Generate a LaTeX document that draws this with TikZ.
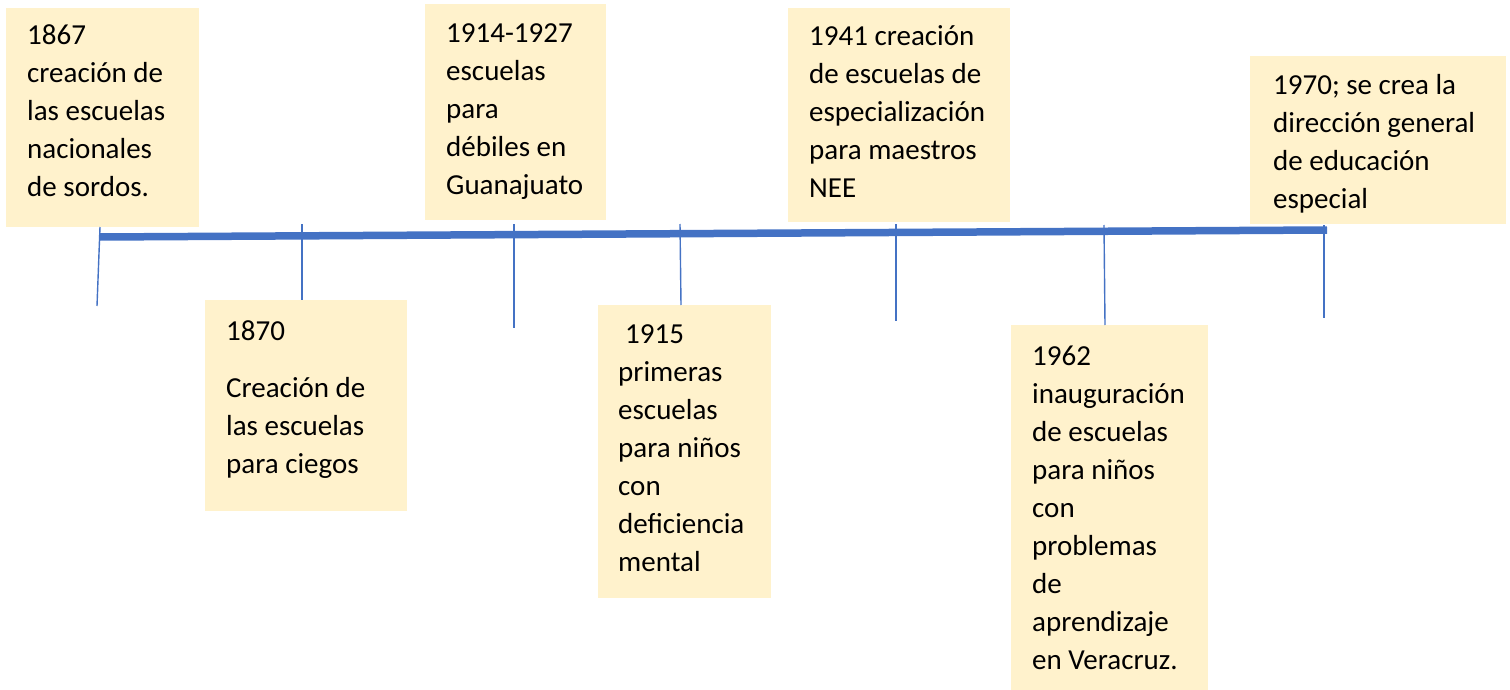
\documentclass[tikz,border=0pt]{standalone}
\usepackage{fontspec}
\setmainfont{Carlito}
\definecolor{boxfill}{HTML}{FFF2CC}
\definecolor{lineblue}{HTML}{4472C4}
\tikzset{
  evbox/.style={fill=boxfill, draw=none, inner sep=0pt, anchor=north west},
  evtext/.style={inner sep=0pt, anchor=base west, text=black, font=\fontsize{29}{38}\selectfont},
  mainline/.style={draw=lineblue, line width=7.5pt},
  tick/.style={draw=lineblue, line width=1.4pt}
}
\newcommand{\evlines}[1]{\parbox[t]{260pt}{\raggedright #1}}
\begin{document}
\begin{tikzpicture}[x=1pt,y=-1pt]
\useasboundingbox (0,0) rectangle (1510,690);

% boxes
\node[evbox, minimum width=193pt, minimum height=219pt] (b1) at (6,8) {};
\node[evbox, minimum width=202pt, minimum height=211pt] (b2) at (205,300) {};
\node[evbox, minimum width=181pt, minimum height=216pt] (b3) at (425,4) {};
\node[evbox, minimum width=173pt, minimum height=293pt] (b4) at (598,305) {};
\node[evbox, minimum width=222pt, minimum height=214pt] (b5) at (788,8) {};
\node[evbox, minimum width=197pt, minimum height=365pt] (b6) at (1011,325) {};
\node[evbox, minimum width=256pt, minimum height=168pt] (b7) at (1250,56) {};

% texts
\node[evtext] (t1) at (27,45) {\evlines{1867\\creación de\\las escuelas\\nacionales\\de sordos.}};
\node[evtext] (t2) at (226,340) {\evlines{1870\\[19pt]Creación de\\las escuelas\\para ciegos}};
\node[evtext] (t3) at (446,43) {\evlines{1914-1927\\escuelas\\para\\débiles en\\Guanajuato}};
\node[evtext] (t4) at (618,343) {\evlines{\hspace*{7pt}1915\\primeras\\escuelas\\para niños\\con\\deficiencia\\mental}};
\node[evtext] (t5) at (809,46) {\evlines{1941 creación\\de escuelas de\\especialización\\para maestros\\NEE}};
\node[evtext] (t6) at (1032,365) {\evlines{1962\\inauguración\\de escuelas\\para niños\\con\\problemas\\de\\aprendizaje\\en Veracruz.}};
\node[evtext] (t7) at (1273,95) {\evlines{1970; se crea la\\dirección general\\de educación\\especial}};

% timeline
\coordinate (L) at (100,237);
\coordinate (R) at (1327,230);
\draw[mainline] (L) -- (R);

% ticks
\coordinate (k1a) at (100,227); \coordinate (k1b) at (97,306);
\coordinate (k2a) at (302,224); \coordinate (k2b) at (302,300);
\coordinate (k3a) at (514,224); \coordinate (k3b) at (514,328);
\coordinate (k4a) at (680,224); \coordinate (k4b) at (681,305);
\coordinate (k5a) at (896,224); \coordinate (k5b) at (896,321);
\coordinate (k6a) at (1104,225); \coordinate (k6b) at (1105,325);
\coordinate (k7a) at (1324,225); \coordinate (k7b) at (1324,318);
\foreach \i in {1,...,7} {\draw[tick] (k\i a) -- (k\i b);}
\end{tikzpicture}
\end{document}
